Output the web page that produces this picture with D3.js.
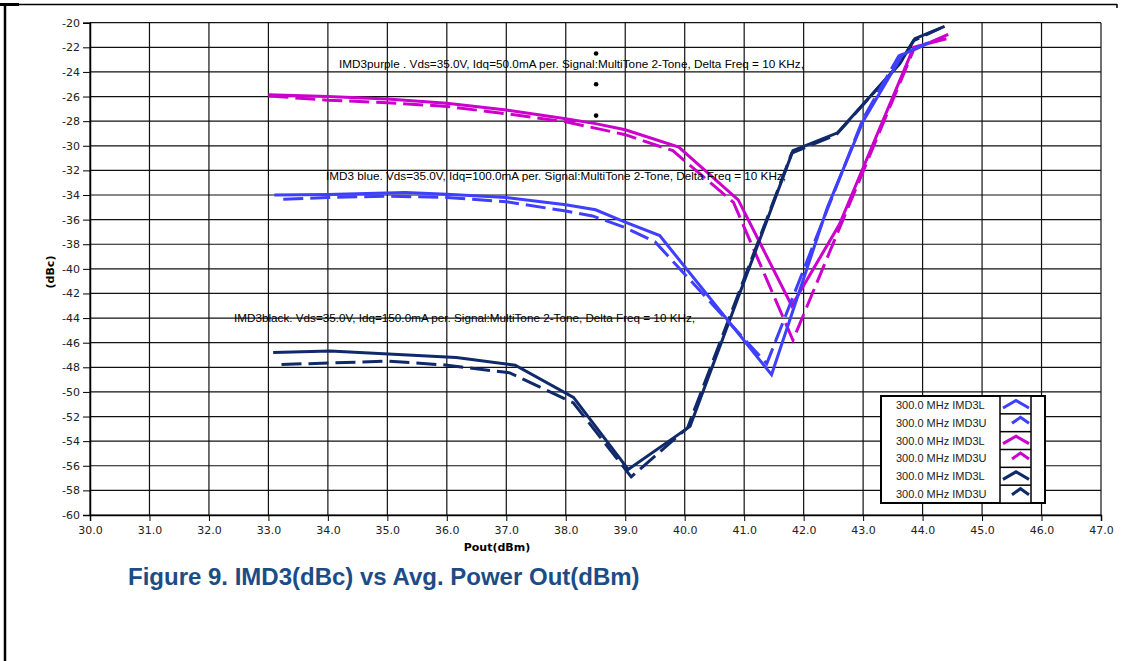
<!DOCTYPE html>
<html><head><meta charset="utf-8">
<script src="https://cdn.jsdelivr.net/npm/d3@7"></script>
<style>body{margin:0;background:#fff;} svg{display:block;}</style>
</head><body>
<svg id="c" width="1123" height="661"></svg>
<script>
// ---------- data ----------
const xTickValues = [30,31,32,33,34,35,36,37,38,39,40,41,42,43,44,45,46,47];
const yTickValues = [-20,-22,-24,-26,-28,-30,-32,-34,-36,-38,-40,-42,-44,-46,-48,-50,-52,-54,-56,-58,-60];

const purpleL = [[33.0,-25.85],[34.0,-26.0],[35.0,-26.2],[36.0,-26.55],[37.0,-27.1],[38.0,-27.8],[38.5,-28.2],[39.0,-28.7],[39.9,-30.1],[40.9,-34.4],[41.8,-43.0],[42.6,-36.4],[43.85,-22.0],[44.4,-21.3]];
const purpleU = [[33.0,-25.95],[34.0,-26.3],[35.0,-26.5],[36.0,-26.8],[37.0,-27.4],[38.0,-28.05],[39.0,-29.1],[39.8,-30.4],[40.82,-34.6],[41.82,-45.8],[43.85,-22.2],[44.45,-20.9]];
const blueL = [[33.1,-34.0],[34.0,-33.95],[35.3,-33.8],[36.0,-33.93],[37.0,-34.2],[38.0,-34.8],[38.5,-35.2],[39.0,-36.2],[39.58,-37.3],[41.46,-48.6],[42.4,-35.0],[43.0,-28.0],[43.66,-22.6],[44.12,-21.6]];
const blueU = [[33.25,-34.35],[34.0,-34.2],[35.0,-34.1],[36.0,-34.2],[37.0,-34.55],[38.0,-35.3],[38.45,-35.7],[39.0,-36.65],[39.5,-37.8],[41.38,-47.7],[42.42,-34.9],[43.0,-27.8],[43.6,-22.7],[44.15,-21.5]];
const navyL = [[33.08,-46.8],[34.04,-46.67],[36.16,-47.2],[37.15,-47.83],[38.13,-50.45],[39.05,-56.3],[40.09,-52.8],[41.82,-30.4],[42.57,-28.95],[43.62,-23.3],[43.87,-21.3],[44.37,-20.3]];
const navyU = [[33.22,-47.77],[35.0,-47.5],[35.94,-47.8],[37.06,-48.45],[38.13,-50.9],[39.1,-56.9],[40.05,-52.9],[41.8,-30.6],[42.55,-29.1],[43.6,-23.4],[43.85,-21.45],[44.3,-20.45]];

const markerDots = [[38.51,-22.5],[38.51,-25.0],[38.51,-27.55]];

const legendLabels = ["300.0 MHz IMD3L","300.0 MHz IMD3U","300.0 MHz IMD3L","300.0 MHz IMD3U","300.0 MHz IMD3L","300.0 MHz IMD3U"];
const annotationTexts = [
  "IMD3purple . Vds=35.0V, Idq=50.0mA per. Signal:MultiTone 2-Tone, Delta Freq = 10 KHz,",
  "IMD3 blue. Vds=35.0V, Idq=100.0mA per. Signal:MultiTone 2-Tone, Delta Freq = 10 KHz,",
  "IMD3black. Vds=35.0V, Idq=150.0mA per. Signal:MultiTone 2-Tone, Delta Freq = 10 KHz,"
];
const titleText = "Figure 9. IMD3(dBc) vs Avg. Power Out(dBm)";
const xLabel = "Pout(dBm)";
const yLabel = "(dBc)";

// ---------- styles ----------
const COL = {blue:"#3f3fff", purple:"#cc00cc", navy:"#10296a"};
const DASH = "20,7";
const series = [
  {data:purpleL, color:COL.purple, dash:null},
  {data:purpleU, color:COL.purple, dash:DASH},
  {data:navyL, color:COL.navy, dash:null},
  {data:navyU, color:COL.navy, dash:DASH},
  {data:blueL, color:COL.blue, dash:null},
  {data:blueU, color:COL.blue, dash:DASH}
];
const legendStyle = [
  {color:COL.blue, big:true},{color:COL.blue, big:false},
  {color:COL.purple, big:true},{color:COL.purple, big:false},
  {color:COL.navy, big:true},{color:COL.navy, big:false}
];

const svg = d3.select("#c");
const L = 90, R = 1101, T = 22.7, B = 515;
const x = d3.scaleLinear().domain([30,47]).range([L,R]);
const y = d3.scaleLinear().domain([-60,-20]).range([B,T]);

// page frame
svg.append("rect").attr("x",0).attr("y",3).attr("width",19).attr("height",3).attr("fill","#000");
svg.append("line").attr("x1",5).attr("x2",1117).attr("y1",4.5).attr("y2",4.5).attr("stroke","#000").attr("stroke-width",1.5);
svg.append("line").attr("x1",1117).attr("x2",1117).attr("y1",4).attr("y2",8).attr("stroke","#000").attr("stroke-width",1.5);
svg.append("line").attr("x1",5).attr("x2",5).attr("y1",4).attr("y2",661).attr("stroke","#000").attr("stroke-width",2.5);

// grid
const grid = svg.append("g");
grid.selectAll("line.v").data(xTickValues).join("line")
  .attr("x1",d=>x(d)).attr("x2",d=>x(d)).attr("y1",T).attr("y2",B)
  .attr("stroke","#111").attr("stroke-width",1.2);
grid.selectAll("line.h").data(yTickValues).join("line")
  .attr("y1",d=>y(d)).attr("y2",d=>y(d)).attr("x1",L).attr("x2",R)
  .attr("stroke","#111").attr("stroke-width",1.2);

// axes
const tickFont = "'DejaVu Sans', sans-serif";
const ax = svg.append("g").attr("transform",`translate(${L},0)`)
  .call(d3.axisLeft(y).tickValues(yTickValues).tickSize(7).tickPadding(3).tickFormat(d=>String(d)));
const bx = svg.append("g").attr("transform",`translate(0,${B})`)
  .call(d3.axisBottom(x).tickValues(xTickValues).tickSize(6).tickPadding(5).tickFormat(d=>d.toFixed(1)));
[ax,bx].forEach(g=>{
  g.selectAll("text").attr("font-family",tickFont).attr("font-size",11).attr("fill","#222");
  g.selectAll("line").attr("stroke","#000");
  g.select(".domain").attr("stroke","#000").attr("stroke-width",1.5);
});

// axis labels
svg.append("text").attr("x",497).attr("y",551).attr("text-anchor","middle")
  .attr("font-family",tickFont).attr("font-weight","bold").attr("font-size",11).text(xLabel);
svg.append("text").attr("transform","translate(54,272) rotate(-90)").attr("text-anchor","middle")
  .attr("font-family",tickFont).attr("font-weight","bold").attr("font-size",11).text(yLabel);

// title
svg.append("text").attr("x",128).attr("y",585)
  .attr("font-family","'Liberation Sans', Arial, sans-serif").attr("font-weight","bold")
  .attr("font-size",24).attr("fill","#1c4c86").text(titleText);

// series lines
const line = d3.line().x(d=>x(d[0])).y(d=>y(d[1]));
svg.append("g").selectAll("path").data(series).join("path")
  .attr("d",d=>line(d.data)).attr("fill","none")
  .attr("stroke",d=>d.color).attr("stroke-width",3)
  .attr("stroke-dasharray",d=>d.dash).attr("stroke-linejoin","miter");

// marker dots
svg.append("g").selectAll("circle").data(markerDots).join("circle")
  .attr("cx",d=>x(d[0])).attr("cy",d=>y(d[1])).attr("r",2.3).attr("fill","#000");

// annotations
const annPos = [{x:339,y:68,w:465},{x:326,y:180,w:460},{x:234,y:322,w:461}];
svg.append("g").selectAll("text").data(annotationTexts).join("text")
  .attr("x",(d,i)=>annPos[i].x).attr("y",(d,i)=>annPos[i].y)
  .attr("textLength",(d,i)=>annPos[i].w).attr("lengthAdjust","spacingAndGlyphs")
  .attr("font-family","'Liberation Sans', Arial, sans-serif").attr("font-size",11).attr("fill","#000")
  .text(d=>d);

// legend
const lx = 881, ly = 396, lw = 164, lh = 107, rowH = lh/6;
const lg = svg.append("g");
lg.append("rect").attr("x",lx).attr("y",ly).attr("width",lw).attr("height",lh)
  .attr("fill","#fff").attr("stroke","#000").attr("stroke-width",2);
lg.append("rect").attr("x",1000).attr("y",ly).attr("width",31).attr("height",lh)
  .attr("fill","#fff").attr("stroke","#000").attr("stroke-width",1.5);
lg.selectAll("line.sep").data(d3.range(1,6)).join("line")
  .attr("x1",1000).attr("x2",1031).attr("y1",i=>ly+i*rowH).attr("y2",i=>ly+i*rowH)
  .attr("stroke","#000").attr("stroke-width",1.5);
lg.selectAll("text").data(legendLabels).join("text")
  .attr("x",896).attr("y",(d,i)=>ly+i*rowH+rowH/2+4)
  .attr("font-family","'Liberation Sans', Arial, sans-serif").attr("font-size",11).attr("fill","#222")
  .text(d=>d);
lg.selectAll("path").data(legendStyle).join("path")
  .attr("d",(d,i)=>{
    const t = ly+i*rowH;
    return d.big ? `M1003,${t+12} L1016,${t+4.5} L1029,${t+12}` : `M1012,${t+9.5} L1020.5,${t+3.5} L1029,${t+9.5}`;
  })
  .attr("fill","none").attr("stroke",d=>d.color).attr("stroke-width",3);
</script>
</body></html>
